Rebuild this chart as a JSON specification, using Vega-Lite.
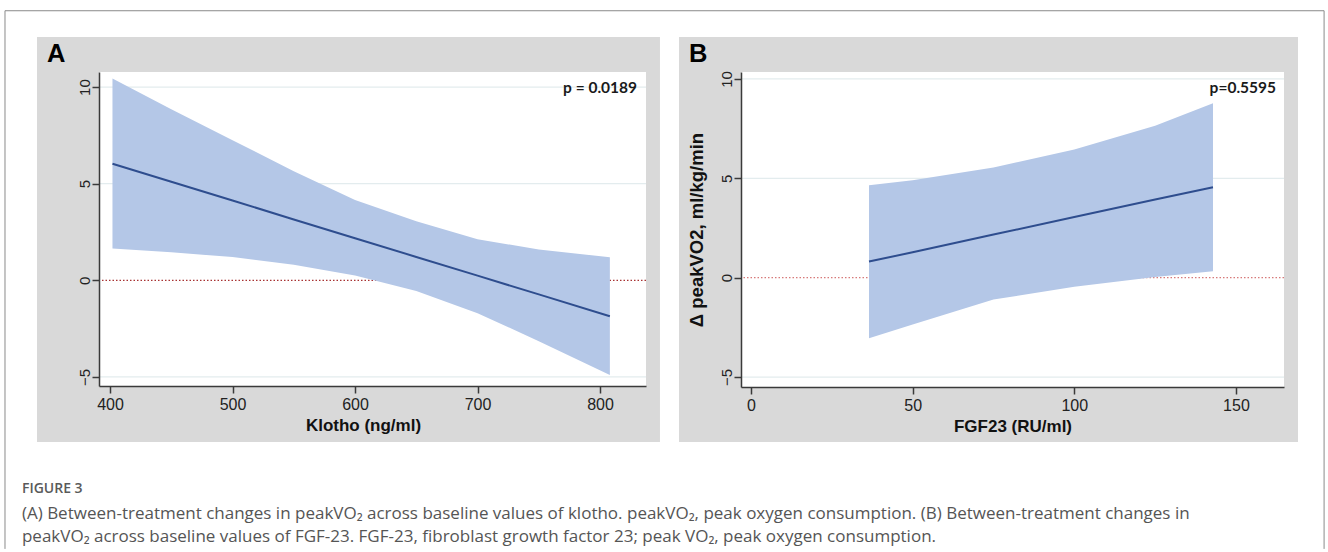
{
  "$schema": "https://vega.github.io/schema/vega-lite/v6.json",
  "background": "white",
  "padding": {"left": 4, "top": 10, "right": 0, "bottom": 0},
  "datasets": {
    "klotho": [
      {"klotho": 402, "fit": 6.03, "lo": 1.65, "hi": 10.45},
      {"klotho": 450, "fit": 5.10, "lo": 1.45, "hi": 8.85},
      {"klotho": 500, "fit": 4.13, "lo": 1.20, "hi": 7.25},
      {"klotho": 550, "fit": 3.15, "lo": 0.80, "hi": 5.65},
      {"klotho": 600, "fit": 2.18, "lo": 0.25, "hi": 4.15},
      {"klotho": 650, "fit": 1.21, "lo": -0.55, "hi": 3.05},
      {"klotho": 700, "fit": 0.24, "lo": -1.70, "hi": 2.12},
      {"klotho": 750, "fit": -0.73, "lo": -3.15, "hi": 1.60},
      {"klotho": 808, "fit": -1.86, "lo": -4.90, "hi": 1.19}
    ],
    "fgf": [
      {"fgf23": 36.5, "fit": 0.81, "lo": -3.05, "hi": 4.65},
      {"fgf23": 50, "fit": 1.28, "lo": -2.35, "hi": 4.90},
      {"fgf23": 75, "fit": 2.17, "lo": -1.10, "hi": 5.55},
      {"fgf23": 100, "fit": 3.05, "lo": -0.45, "hi": 6.45},
      {"fgf23": 125, "fit": 3.93, "lo": 0.03, "hi": 7.65},
      {"fgf23": 142.9, "fit": 4.55, "lo": 0.32, "hi": 8.78}
    ],
    "grid": [{"g": -5}, {"g": 5}, {"g": 10}],
    "one": [{}]
  },
  "hconcat": [
    {
      "width": 547,
      "height": 314,
      "layer": [
        {
          "data": {"name": "one"},
          "mark": {"type": "rule", "color": "#8a8a8a", "strokeWidth": 1, "clip": false},
          "encoding": {
            "x": {"datum": 314.27, "type": "quantitative", "scale": {"domain": [391, 837.5], "nice": false, "zero": false}},
            "x2": {"datum": 1391},
            "y": {"datum": 13.95, "type": "quantitative", "scale": {"domain": [-5.47, 10.78], "nice": false, "zero": false}}
          }
        },
        {
          "data": {"name": "one"},
          "mark": {"type": "rule", "color": "#8a8a8a", "strokeWidth": 1, "clip": false},
          "encoding": {
            "x": {"datum": 314.27, "type": "quantitative"},
            "y": {"datum": 13.95, "type": "quantitative"},
            "y2": {"datum": -13.9}
          }
        },
        {
          "data": {"name": "one"},
          "mark": {"type": "rule", "color": "#8a8a8a", "strokeWidth": 1, "clip": false},
          "encoding": {
            "x": {"datum": 1391, "type": "quantitative"},
            "y": {"datum": 13.95, "type": "quantitative"},
            "y2": {"datum": -13.9}
          }
        },
        {
          "data": {"name": "one"},
          "mark": {"type": "rect", "color": "#d9d9d9", "clip": false},
          "encoding": {
            "x": {"datum": 340.4, "type": "quantitative"},
            "x2": {"datum": 848.9},
            "y": {"datum": 12.59, "type": "quantitative"},
            "y2": {"datum": -8.37}
          }
        },
        {
          "data": {"name": "one"},
          "mark": {"type": "rect", "color": "white"},
          "encoding": {
            "x": {"datum": 391, "type": "quantitative"},
            "x2": {"datum": 837.5},
            "y": {"datum": 10.78, "type": "quantitative"},
            "y2": {"datum": -5.47}
          }
        },
        {
          "data": {"name": "grid"},
          "mark": {"type": "rule", "color": "#e3ecee", "strokeWidth": 1.2},
          "encoding": {"y": {"field": "g", "type": "quantitative"}}
        },
        {
          "data": {"name": "one"},
          "mark": {"type": "rule", "color": "#a83232", "strokeWidth": 1.3, "strokeDash": [1.5, 2]},
          "encoding": {"y": {"datum": 0, "type": "quantitative"}}
        },
        {
          "data": {"name": "klotho"},
          "mark": {"type": "area", "color": "#b4c7e7", "opacity": 1},
          "encoding": {
            "x": {
              "field": "klotho", "type": "quantitative",
              "scale": {"domain": [391, 837.5], "nice": false, "zero": false},
              "axis": {
                "values": [400, 500, 600, 700, 800], "title": "Klotho (ng/ml)", "titleX": 264, "grid": false, "zindex": 1,
                "domainColor": "#3a3a3a", "domainWidth": 1.5, "tickColor": "#3a3a3a", "tickWidth": 1.5, "tickSize": 7,
                "labelFont": "Liberation Sans", "labelFontSize": 16, "labelColor": "#222", "labelPadding": 3, "labelFlush": false,
                "titleFont": "Liberation Sans", "titleFontSize": 17, "titleFontWeight": "bold", "titleColor": "#111", "titlePadding": 5
              }
            },
            "y": {
              "field": "hi", "type": "quantitative",
              "scale": {"domain": [-5.47, 10.78], "nice": false, "zero": false},
              "axis": {
                "values": [-5, 0, 5, 10], "title": null, "grid": false, "zindex": 1,
                "domainColor": "#3a3a3a", "domainWidth": 1.5, "tickColor": "#3a3a3a", "tickWidth": 1.5, "tickSize": 7,
                "labelAngle": 270, "labelAlign": "center", "labelBaseline": "alphabetic", "labelPadding": 3,
                "labelFont": "Liberation Sans", "labelFontSize": 15, "labelColor": "#222"
              }
            },
            "y2": {"field": "lo"}
          }
        },
        {
          "data": {"name": "klotho"},
          "mark": {"type": "line", "color": "#2e4d8e", "strokeWidth": 2},
          "encoding": {
            "x": {"field": "klotho", "type": "quantitative"},
            "y": {"field": "fit", "type": "quantitative"}
          }
        },
        {
          "data": {"name": "one"},
          "mark": {"type": "text", "text": "p = 0.0189", "align": "right", "baseline": "alphabetic", "font": "Lato", "fontWeight": "bold", "fontSize": 15.5, "color": "#1a1a1a"},
          "encoding": {
            "x": {"datum": 830.2, "type": "quantitative"},
            "y": {"datum": 9.71, "type": "quantitative"}
          }
        },
        {
          "data": {"name": "one"},
          "mark": {"type": "text", "text": "A", "align": "left", "baseline": "alphabetic", "font": "Liberation Sans", "fontWeight": "bold", "fontSize": 25.5, "color": "#000", "clip": false},
          "encoding": {
            "x": {"datum": 348.6, "type": "quantitative"},
            "y": {"datum": 11.30, "type": "quantitative"}
          }
        },
        {
          "data": {"name": "one"},
          "mark": {"type": "text", "text": "FIGURE 3", "align": "left", "baseline": "middle", "font": "Open Sans", "fontWeight": 600, "fontSize": 14, "color": "#5a5a5a", "clip": false},
          "encoding": {
            "x": {"datum": 328.1, "type": "quantitative"},
            "y": {"datum": -10.80, "type": "quantitative"}
          }
        },
        {
          "data": {"name": "one"},
          "mark": {"type": "text", "text": "(A) Between-treatment changes in peakVO₂ across baseline values of klotho. peakVO₂, peak oxygen consumption. (B) Between-treatment changes in", "align": "left", "baseline": "middle", "font": "Open Sans", "fontSize": 17, "color": "#555555", "clip": false},
          "encoding": {
            "x": {"datum": 328.1, "type": "quantitative"},
            "y": {"datum": -12.09, "type": "quantitative"}
          }
        },
        {
          "data": {"name": "one"},
          "mark": {"type": "text", "text": "peakVO₂ across baseline values of FGF-23. FGF-23, fibroblast growth factor 23; peak VO₂, peak oxygen consumption.", "align": "left", "baseline": "middle", "font": "Open Sans", "fontSize": 17, "color": "#555555", "clip": false},
          "encoding": {
            "x": {"datum": 328.1, "type": "quantitative"},
            "y": {"datum": -13.28, "type": "quantitative"}
          }
        }
      ]
    },
    {
      "width": 543,
      "height": 315,
      "layer": [
        {
          "data": {"name": "one"},
          "mark": {"type": "rect", "color": "#d9d9d9", "clip": false},
          "encoding": {
            "x": {"datum": -22.27, "type": "quantitative", "scale": {"domain": [-3.09, 164.86], "nice": false, "zero": false}},
            "x2": {"datum": 169.19},
            "y": {"datum": 12.11, "type": "quantitative", "scale": {"domain": [-5.5, 10.35], "nice": false, "zero": false}},
            "y2": {"datum": -8.27}
          }
        },
        {
          "data": {"name": "one"},
          "mark": {"type": "rect", "color": "white"},
          "encoding": {
            "x": {"datum": -3.09, "type": "quantitative"},
            "x2": {"datum": 164.86},
            "y": {"datum": 10.35, "type": "quantitative"},
            "y2": {"datum": -5.5}
          }
        },
        {
          "data": {"name": "grid"},
          "mark": {"type": "rule", "color": "#e3ecee", "strokeWidth": 1.2},
          "encoding": {"y": {"field": "g", "type": "quantitative"}}
        },
        {
          "data": {"name": "one"},
          "mark": {"type": "rule", "color": "#d77a7a", "strokeWidth": 1.3, "strokeDash": [1.5, 2]},
          "encoding": {"y": {"datum": 0, "type": "quantitative"}}
        },
        {
          "data": {"name": "fgf"},
          "mark": {"type": "area", "color": "#b4c7e7", "opacity": 1},
          "encoding": {
            "x": {
              "field": "fgf23", "type": "quantitative",
              "scale": {"domain": [-3.09, 164.86], "nice": false, "zero": false},
              "axis": {
                "values": [0, 50, 100, 150], "title": "FGF23 (RU/ml)", "grid": false, "zindex": 1,
                "domainColor": "#3a3a3a", "domainWidth": 1.5, "tickColor": "#3a3a3a", "tickWidth": 1.5, "tickSize": 7,
                "labelFont": "Liberation Sans", "labelFontSize": 16, "labelColor": "#222", "labelPadding": 3, "labelFlush": false,
                "titleFont": "Liberation Sans", "titleFontSize": 17, "titleFontWeight": "bold", "titleColor": "#111", "titlePadding": 5
              }
            },
            "y": {
              "field": "hi", "type": "quantitative",
              "scale": {"domain": [-5.5, 10.35], "nice": false, "zero": false},
              "axis": {
                "values": [-5, 0, 5, 10], "title": "Δ peakVO2, ml/kg/min", "grid": false, "zindex": 1,
                "domainColor": "#3a3a3a", "domainWidth": 1.5, "tickColor": "#3a3a3a", "tickWidth": 1.5, "tickSize": 7,
                "labelAngle": 270, "labelAlign": "center", "labelBaseline": "alphabetic", "labelPadding": 3,
                "labelFont": "Liberation Sans", "labelFontSize": 15, "labelColor": "#222",
                "titleFont": "Liberation Sans", "titleFontSize": 18.5, "titleFontWeight": "bold", "titleColor": "#111", "titlePadding": 13
              }
            },
            "y2": {"field": "lo"}
          }
        },
        {
          "data": {"name": "fgf"},
          "mark": {"type": "line", "color": "#2e4d8e", "strokeWidth": 2},
          "encoding": {
            "x": {"field": "fgf23", "type": "quantitative"},
            "y": {"field": "fit", "type": "quantitative"}
          }
        },
        {
          "data": {"name": "one"},
          "mark": {"type": "text", "text": "p=0.5595", "align": "right", "baseline": "alphabetic", "font": "Lato", "fontWeight": "bold", "fontSize": 15.5, "color": "#1a1a1a"},
          "encoding": {
            "x": {"datum": 162.4, "type": "quantitative"},
            "y": {"datum": 9.31, "type": "quantitative"}
          }
        },
        {
          "data": {"name": "one"},
          "mark": {"type": "text", "text": "B", "align": "left", "baseline": "alphabetic", "font": "Liberation Sans", "fontWeight": "bold", "fontSize": 25.5, "color": "#000", "clip": false},
          "encoding": {
            "x": {"datum": -19.17, "type": "quantitative"},
            "y": {"datum": 10.87, "type": "quantitative"}
          }
        }
      ]
    }
  ],
  "spacing": 95,
  "bounds": "flush",
  "config": {
    "view": {"stroke": null},
    "font": "Liberation Sans"
  }
}
